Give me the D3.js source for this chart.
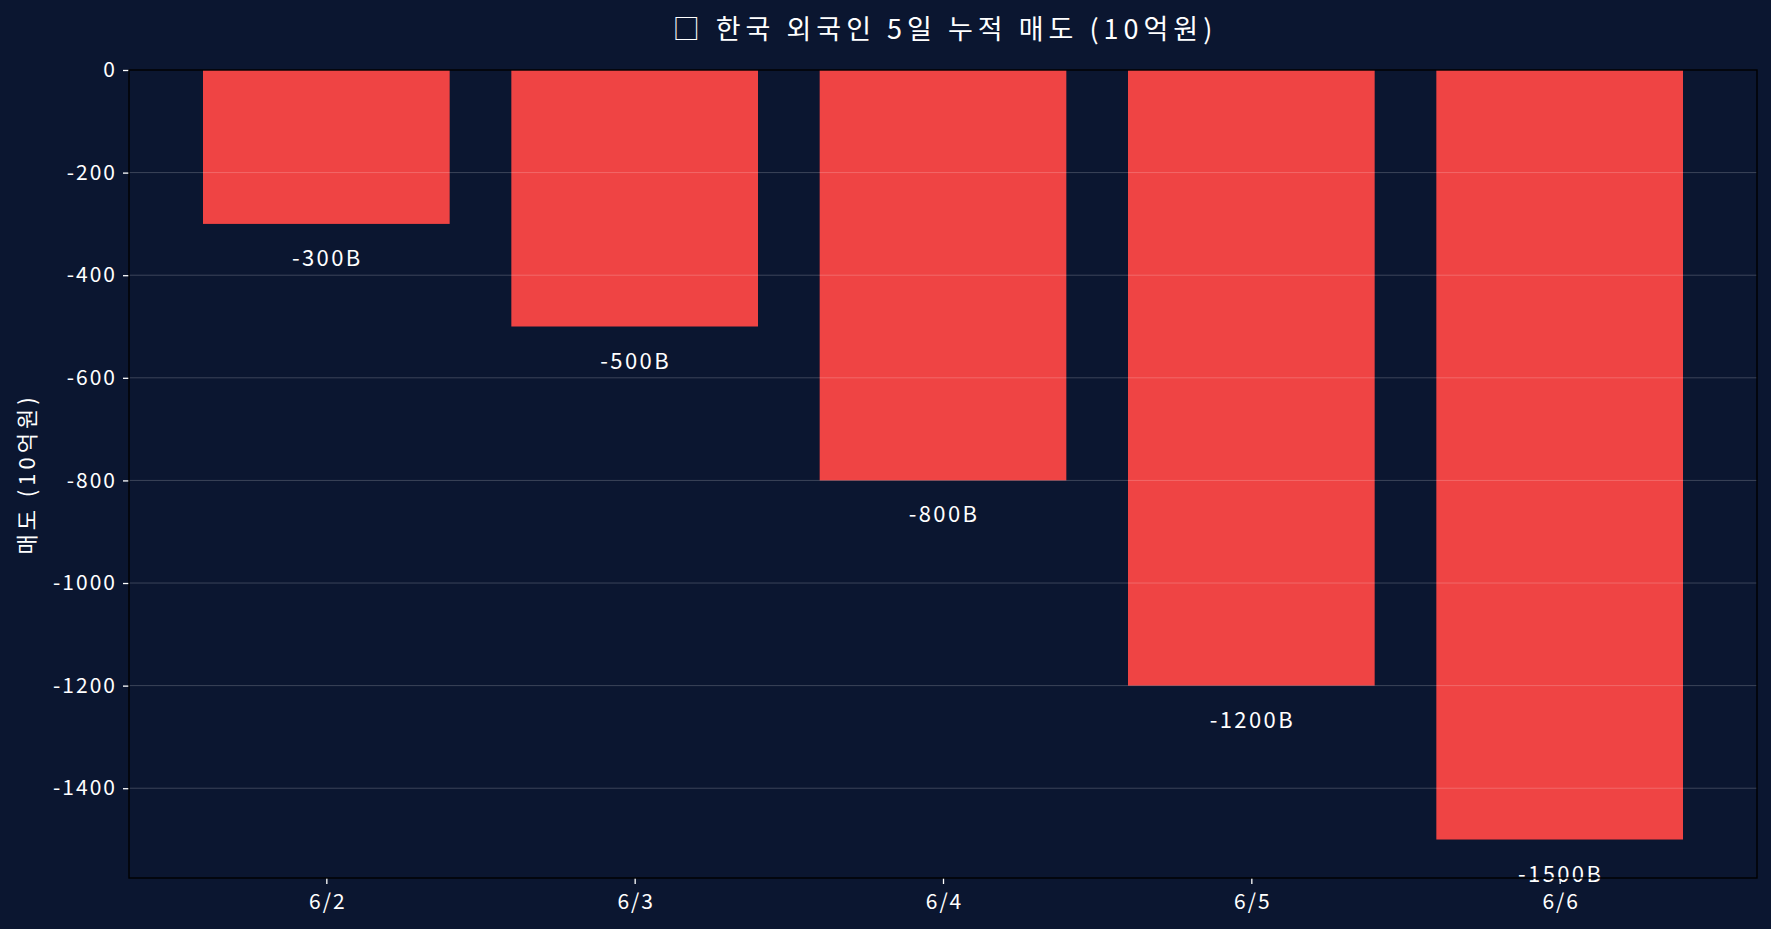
<!DOCTYPE html>
<html>
<head>
<meta charset="utf-8">
<script src="https://cdn.jsdelivr.net/npm/d3@7"></script>
<style>
  html, body { margin: 0; padding: 0; background: #0b1630; }
  svg { display: block; font-family: "Noto Sans CJK KR", "Noto Sans", sans-serif; }
</style>
</head>
<body>
<div id="chart"></div>
<script>
const dates = ['6/2', '6/3', '6/4', '6/5', '6/6'];
const sells = [-300, -500, -800, -1200, -1500];
const barLabels = ['-300B', '-500B', '-800B', '-1200B', '-1500B'];
const yTicks = [0, -200, -400, -600, -800, -1000, -1200, -1400];

const width = 1771, height = 929;
const margin = { top: 70, right: 14, bottom: 51, left: 129 };
const innerW = width - margin.left - margin.right;
const innerH = height - margin.top - margin.bottom;

const svg = d3.select('#chart')
  .append('svg')
  .attr('width', width)
  .attr('height', height);

svg.append('rect')
  .attr('width', width)
  .attr('height', height)
  .attr('fill', '#0b1630');

const g = svg.append('g')
  .attr('transform', `translate(${margin.left}, ${margin.top})`);

// categories at 0..n-1, bar width 0.8, 5% margin each side
const n = dates.length;
const pad = (n - 1 + 0.8) * 0.05;
const xScale = d3.scaleLinear()
  .domain([-0.4 - pad, n - 1 + 0.4 + pad])
  .range([0, innerW]);

const yMin = d3.min(sells);
const yScale = d3.scaleLinear()
  .domain([yMin * 1.05, 0])
  .range([innerH, 0]);

// bars
g.selectAll('rect.bar')
  .data(sells)
  .enter()
  .append('rect')
  .attr('class', 'bar')
  .attr('x', (d, i) => xScale(i - 0.4))
  .attr('y', yScale(0))
  .attr('width', xScale(0.4) - xScale(-0.4))
  .attr('height', d => yScale(d) - yScale(0))
  .attr('fill', '#ef4444');

// grid drawn over the bars
g.append('g')
  .selectAll('line')
  .data(yTicks.filter(t => t !== 0))
  .enter()
  .append('line')
  .attr('x1', 0)
  .attr('x2', innerW)
  .attr('y1', d => yScale(d))
  .attr('y2', d => yScale(d))
  .attr('stroke', '#ffffff')
  .attr('stroke-opacity', 0.2)
  .attr('stroke-width', 1);

// value labels
g.selectAll('text.val')
  .data(sells)
  .enter()
  .append('text')
  .attr('class', 'val')
  .attr('x', (d, i) => xScale(i) + 1)
  .attr('y', d => yScale(d) + 32)
  .attr('text-anchor', 'middle')
  .attr('dominant-baseline', 'central')
  .attr('fill', '#ffffff')
  .attr('font-size', 22)
  .attr('letter-spacing', 2.4)
  .text((d, i) => barLabels[i]);

// axes
const yAxis = d3.axisLeft(yScale).tickValues(yTicks).tickSize(6).tickPadding(6).tickFormat(d3.format('d'));
const xAxis = d3.axisBottom(xScale).tickValues(d3.range(n)).tickSize(6).tickPadding(10).tickFormat(i => dates[i]);

const ya = g.append('g').call(yAxis);
const xa = g.append('g').attr('transform', `translate(0, ${innerH})`).call(xAxis);

[ya, xa].forEach(a => {
  a.select('.domain').remove();
  a.selectAll('.tick line').attr('stroke', '#ffffff').attr('stroke-width', 1.3);
  a.selectAll('.tick text').attr('fill', '#ffffff').attr('font-size', 21)
    .attr('letter-spacing', 2)
    .style('font-family', '"Noto Sans CJK KR", "Noto Sans", sans-serif');
});
ya.selectAll('.tick text').text(d => d === 0 ? '0' : '-' + Math.abs(d));
xa.selectAll('.tick text').attr('dx', 1);

// frame
g.append('rect')
  .attr('width', innerW)
  .attr('height', innerH)
  .attr('fill', 'none')
  .attr('stroke', '#000000')
  .attr('stroke-width', 1.4);

// title
svg.append('text')
  .attr('x', margin.left + innerW / 2 + 2)
  .attr('y', 27)
  .attr('text-anchor', 'middle')
  .attr('dominant-baseline', 'central')
  .attr('fill', '#ffffff')
  .attr('font-size', 27)
  .attr('letter-spacing', 5)
  .text('□ 한국 외국인 5일 누적 매도 (10억원)');

// y label
svg.append('text')
  .attr('transform', `translate(25, ${margin.top + innerH / 2}) rotate(-90)`)
  .attr('text-anchor', 'middle')
  .attr('dominant-baseline', 'central')
  .attr('fill', '#ffffff')
  .attr('font-size', 22)
  .attr('letter-spacing', 4)
  .text('매도 (10억원)');
</script>
</body>
</html>
